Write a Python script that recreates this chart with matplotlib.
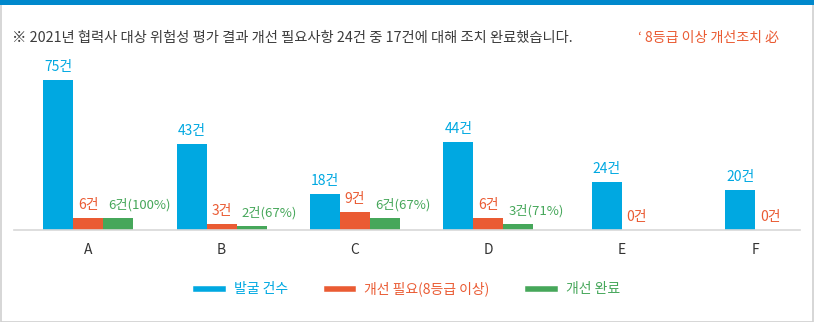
import numpy as np
import matplotlib.pyplot as plt
from matplotlib.lines import Line2D
from matplotlib.patches import Rectangle

plt.rcParams['font.family'] = ['Noto Sans CJK KR', 'DejaVu Sans']

# 협력사별 위험성 평가 결과
companies = ['A', 'B', 'C', 'D', 'E', 'F']
found = [75, 43, 18, 44, 24, 20]        # 발굴 건수
needed = [6, 3, 9, 6, 0, 0]             # 개선 필요(8등급 이상)
done = [6, 2, 6, 3, None, None]         # 개선 완료
done_pct = ['100%', '67%', '67%', '71%', None, None]

c_blue = '#00A8E1'
c_red = '#EA5B33'
c_green = '#46A75A'

W, H = 814, 322
fig = plt.figure(figsize=(W / 100, H / 100), dpi=100)

# 외곽 테두리와 상단 파란 띠
fig.patches.append(Rectangle((0.5 / W, 0.5 / H), 1 - 1.5 / W, 1 - 1 / H, transform=fig.transFigure,
                             fill=False, edgecolor='#D0D0D0', linewidth=1.2))
fig.patches.append(Rectangle((0, 1 - 5 / H), 1, 5 / H, transform=fig.transFigure,
                             facecolor='#0088CC', edgecolor='none'))

ax = fig.add_axes([14 / W, (H - 230) / H, (800 - 14) / W, 170 / H])
ax.set_ylim(0, 85)
ax.set_xlim(-0.556, 5.336)

w = 0.225
x = np.arange(len(companies))
for i in range(len(companies)):
    if done[i] is None:
        offs = [-0.5 * w, 0.5 * w]
    else:
        offs = [-w, 0, w]
    ax.bar(x[i] + offs[0], found[i], w, color=c_blue)
    ax.text(x[i] + offs[0], found[i] + 3, f'{found[i]}건', color=c_blue,
            ha='center', va='bottom', fontsize=10, fontweight='medium')
    ax.bar(x[i] + offs[1], needed[i], w, color=c_red)
    ax.text(x[i] + offs[1], needed[i] + 3, f'{needed[i]}건', color=c_red,
            ha='center', va='bottom', fontsize=10, fontweight='medium')
    if done[i] is not None:
        ax.bar(x[i] + offs[2], done[i], w, color=c_green)
        ax.text(x[i] + offs[2] - w / 2 + 0.04, done[i] + 3, f'{done[i]}건({done_pct[i]})',
                color=c_green, ha='left', va='bottom', fontsize=9.5, fontweight='medium')

ax.set_xticks(x, companies)
ax.tick_params(axis='x', length=0, pad=9, labelsize=10, labelcolor='#333333')
ax.set_yticks([])
for s in ['top', 'left', 'right']:
    ax.spines[s].set_visible(False)
ax.spines['bottom'].set_color('#D8D8D8')
ax.spines['bottom'].set_linewidth(1.2)
ax.patch.set_alpha(0)

fig.text(12 / W, 1 - 38 / H, '※ 2021년 협력사 대상 위험성 평가 결과 개선 필요사항 24건 중 17건에 대해 조치 완료했습니다.',
         fontsize=10.3, color='#3C3C3C', va='center', ha='left')
fig.text(779 / W, 1 - 38 / H, '‘ 8등급 이상 개선조치 必', fontsize=10.1, color=c_red,
         va='center', ha='right', fontweight='medium')

handles = [Line2D([], [], color=c, linewidth=4) for c in (c_blue, c_red, c_green)]
fig.legend(handles, ['발굴 건수', '개선 필요(8등급 이상)', '개선 완료'], loc='center',
           bbox_to_anchor=(408 / W, 1 - 289 / H), ncol=3, frameon=False,
           prop={'size': 10, 'weight': 'medium'},
           handlelength=1.9, handletextpad=0.8, columnspacing=2.8, labelcolor='linecolor')

fig.savefig('out.png', dpi=100)
